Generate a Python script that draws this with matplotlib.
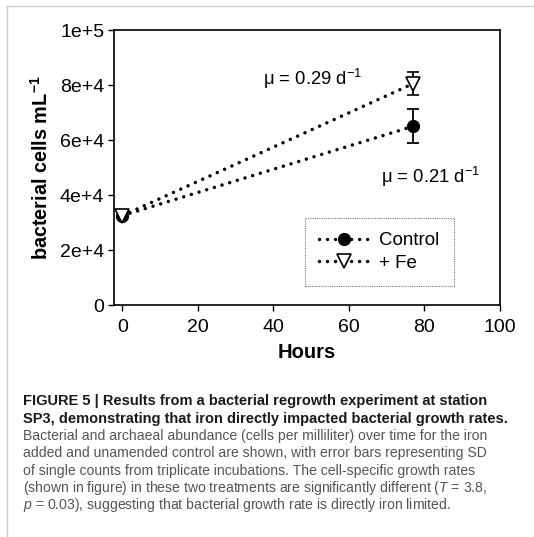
import matplotlib
matplotlib.use("Agg")
import matplotlib.pyplot as plt
from matplotlib.lines import Line2D

plt.rcParams["font.family"] = ["Liberation Sans", "DejaVu Sans"]
plt.rcParams["mathtext.fontset"] = "custom"
plt.rcParams["mathtext.rm"] = "Liberation Sans"
plt.rcParams["mathtext.it"] = "Liberation Sans:italic"
plt.rcParams["mathtext.bf"] = "Liberation Sans:bold"

# Cell counts (cells per mL) at the start and end of the incubation
hours = [0, 77]
control = [32500, 65000]
control_sd = [0, 6200]
iron = [32500, 80500]
iron_sd = [0, 4200]

rate_labels = ["μ = 0.29 d$^{-1}$", "μ = 0.21 d$^{-1}$"]
rate_pos = [(37.2, 80000), (68.5, 44400)]

caption_bold = [
    "FIGURE 5 | Results from a bacterial regrowth experiment at station",
    "SP3, demonstrating that iron directly impacted bacterial growth rates.",
]
caption_body = [
    "Bacterial and archaeal abundance (cells per milliliter) over time for the iron",
    "added and unamended control are shown, with error bars representing SD",
    "of single counts from triplicate incubations. The cell-specific growth rates",
    "(shown in figure) in these two treatments are significantly different ($\\it{T}$ = 3.8,",
    "$\\it{p}$ = 0.03), suggesting that bacterial growth rate is directly iron limited.",
]

fig = plt.figure(figsize=(5.34, 5.37), dpi=100)
ax = fig.add_axes([0.2135, 0.432, 0.7228, 0.512])

dots = (0, (0.01, 2.3))
line_kw = dict(color="black", linestyle=dots, linewidth=2.5,
               dash_capstyle="round")
ctrl_kw = dict(marker="o", markersize=8.5, markerfacecolor="black",
               markeredgecolor="black")
fe_kw = dict(marker="v", markersize=9.5, markerfacecolor="white",
             markeredgecolor="black", markeredgewidth=1.2)

ax.errorbar(hours, control, yerr=control_sd, capsize=4, elinewidth=1.3,
            capthick=1.3, zorder=3, **line_kw, **ctrl_kw)
ax.errorbar(hours, iron, yerr=iron_sd, capsize=4, elinewidth=1.3,
            capthick=1.3, zorder=4, **line_kw, **fe_kw)

for txt, (x, y) in zip(rate_labels, rate_pos):
    ax.text(x, y, txt, fontsize=13.3, ha="left", va="baseline")

ax.set_xlim(-2.2, 100)
ax.set_ylim(0, 100000)
ax.set_xticks([0, 20, 40, 60, 80, 100])
ax.set_yticks([0, 20000, 40000, 60000, 80000, 100000])
ax.set_yticklabels(["0", "2e+4", "4e+4", "6e+4", "8e+4", "1e+5"])
ax.tick_params(direction="out", length=4, width=1, labelsize=14)
ax.tick_params(axis="x", pad=6)
ax.tick_params(axis="y", pad=3)
for side in ax.spines.values():
    side.set_linewidth(1.2)

ax.set_xlabel("Hours", fontsize=14.5, fontweight="bold", labelpad=5)
ax.set_ylabel("bacterial cells mL$^{\\mathbf{-1}}$", fontsize=14.3,
              fontweight="bold", labelpad=6)

handles = [Line2D([], [], **line_kw, **ctrl_kw),
           Line2D([], [], **line_kw, **fe_kw)]
leg = ax.legend(handles, ["Control", "+ Fe"], loc="center",
                bbox_to_anchor=(0.51, 0.065, 0.355, 0.255),
                fontsize=13.5, frameon=True, fancybox=False,
                handlelength=2.6, borderpad=0.75, labelspacing=0.3,
                handletextpad=0.6)
leg.get_frame().set_edgecolor("#555555")
leg.get_frame().set_linewidth(0.8)
leg.get_frame().set_linestyle((0, (1, 1)))

# light page border along top and left
fig.add_artist(Line2D([0.013, 1.0], [0.989, 0.989], color="#cccccc", lw=1))
fig.add_artist(Line2D([0.013, 0.013], [0.0, 0.989], color="#cccccc", lw=1))

y = 1 - 405.5 / 537
step = 17.3 / 537
for line in caption_bold:
    fig.text(0.043, y, line, fontsize=10.5, fontweight="bold", color="#1a1a1a",
             va="baseline")
    y -= step
for line in caption_body:
    fig.text(0.043, y, line, fontsize=10.1, color="#555555", va="baseline")
    y -= step

fig.savefig("out.png", dpi=100)
